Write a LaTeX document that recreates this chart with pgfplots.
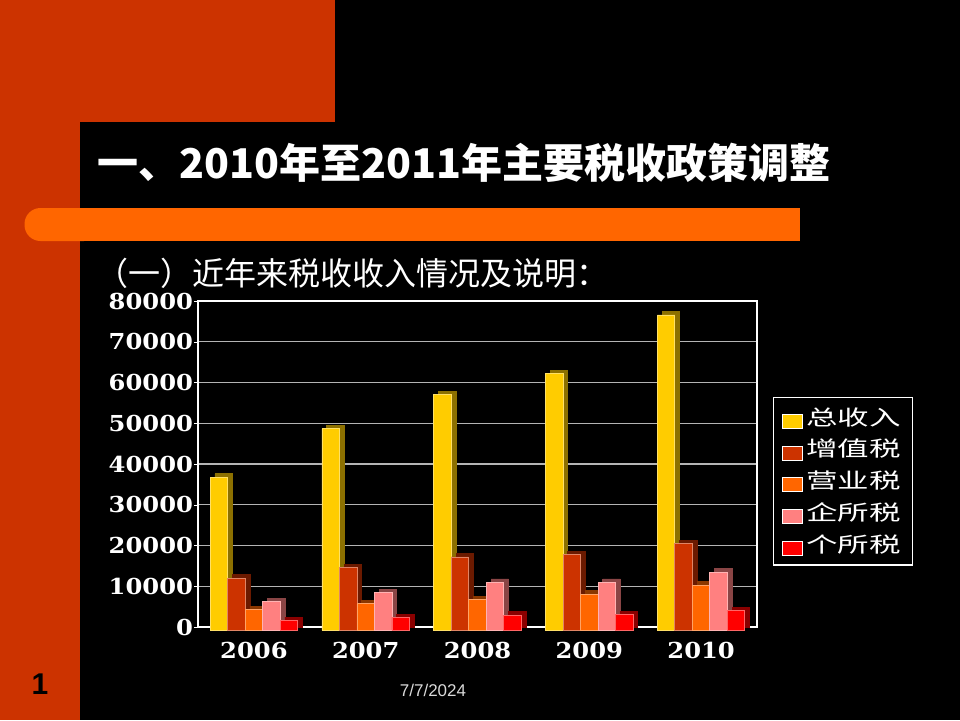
\documentclass[border=0pt]{standalone}
\usepackage{pgfplots}
\usepackage{pgfplotstable}
\pgfplotsset{compat=1.18}
\usepackage{fontspec}
\setmainfont{Liberation Sans}
\newfontfamily\cjk{Noto Sans CJK SC}
\newfontfamily\cjkwide[FakeStretch=1.5]{Noto Sans CJK SC}
\newfontfamily\tickfont[FakeStretch=1.1]{DejaVu Serif}

\definecolor{slidered}{HTML}{CC3300}
\definecolor{slideorange}{HTML}{FF6600}
\definecolor{gridgray}{HTML}{B4B4B4}
\definecolor{cTot}{HTML}{FFCC00}\definecolor{cTotS}{HTML}{8C7000}
\definecolor{cVat}{HTML}{CC3300}\definecolor{cVatS}{HTML}{6B1A00}
\definecolor{cBus}{HTML}{FF6600}\definecolor{cBusS}{HTML}{8A3700}
\definecolor{cCit}{HTML}{FF8080}\definecolor{cCitS}{HTML}{8A4545}
\definecolor{cPit}{HTML}{FF0000}\definecolor{cPitS}{HTML}{8A0000}

\pgfplotstableread{
x total vat bus cit pit
0 37600 12800 5130 7050 2450
1 49500 15400 6500 9300 3180
2 57800 18000 7600 11800 3720
3 63000 18600 8900 11800 3800
4 77400 21300 11100 14300 4850
}\datatable

\pgfplotsset{
  sq legend/.style={legend image code/.code={\draw[##1, draw=white, line width=0.3pt] (0pt,-3.5pt) rectangle (10pt,3.5pt);}},
  front/.style={ybar, bar width=8.75pt, bar shift=#1, yshift=-1.65pt, line width=0.4pt, sq legend},
  side/.style={ybar, bar width=8.75pt, bar shift=#1, xshift=2.4pt, line width=0.4pt, forget plot},
}

\begin{document}
\begin{tikzpicture}
\useasboundingbox (0,0) rectangle (480pt,360pt);
\fill[black] (0,0) rectangle (480pt,360pt);
\fill[slidered] (0,0) rectangle (40pt,360pt);
\fill[slidered] (0,299pt) rectangle (167.5pt,360pt);
\fill[slideorange] (30pt,239.5pt) rectangle (400pt,256pt);
\fill[slideorange, rounded corners=8pt] (12.25pt,239.5pt) rectangle (50pt,256pt);

\node[anchor=west, inner sep=0pt, text=white, font=\cjk\bfseries\fontsize{20.5}{20.5}\selectfont] at (48.5pt,278.5pt) {一、2010年至2011年主要税收政策调整};
\node[anchor=west, inner sep=0pt, text=white, font=\cjk\fontsize{16}{16}\selectfont] at (48pt,223.5pt) {（一）近年来税收收入情况及说明：};
\node[text=black, font=\bfseries\fontsize{15}{15}\selectfont] at (20pt,18pt) {1};
\node[text=black!15!white, font=\fontsize{8.5}{8.5}\selectfont] at (216.5pt,15pt) {7/7/2024};

\begin{axis}[
  scale only axis, width=279.5pt, height=163pt,
  at={(99pt,46.5pt)}, anchor=south west,
  clip=false,
  xmin=-0.5, xmax=4.5, ymin=0, ymax=80000,
  xtick={0,1,2,3,4}, xticklabels={2006,2007,2008,2009,2010},
  ytick={0,10000,...,80000}, ytick pos=left,
  scaled y ticks=false,
  ymajorgrids, grid style={color=gridgray, line width=0.6pt},
  axis line style={white, line width=0.6pt},
  tick style={white}, tick align=outside, major tick length=2pt,
  x tick style={draw=none},
  ticklabel style={text=white, font=\tickfont\bfseries\fontsize{11}{11}\selectfont},
  /pgf/number format/1000 sep={},
  /pgf/number format/assume math mode=true,
  xticklabel style={yshift=-2pt},
  yticklabel style={xshift=3pt},
  legend style={at={(1.0286,0.7055)}, anchor=north west, fill=black, draw=white,
    text=white, font=\cjkwide\fontsize{10.5}{10.5}\selectfont, row sep=1.5pt,
    inner xsep=4pt, inner ysep=3pt, cells={anchor=west}, line width=0.6pt},
]
\addplot[side=-17.5pt, fill=cTotS, draw=cTotS] table[x=x,y=total]{\datatable};
\addplot[front=-17.5pt, fill=cTot, draw=cTot!60!white] table[x=x,y=total]{\datatable};
\addplot[side=-8.75pt, fill=cVatS, draw=cVatS] table[x=x,y=vat]{\datatable};
\addplot[front=-8.75pt, fill=cVat, draw=cVat!60!white] table[x=x,y=vat]{\datatable};
\addplot[side=0pt, fill=cBusS, draw=cBusS] table[x=x,y=bus]{\datatable};
\addplot[front=0pt, fill=cBus, draw=cBus!60!white] table[x=x,y=bus]{\datatable};
\addplot[side=8.75pt, fill=cCitS, draw=cCitS] table[x=x,y=cit]{\datatable};
\addplot[front=8.75pt, fill=cCit, draw=cCit!60!white] table[x=x,y=cit]{\datatable};
\addplot[side=17.5pt, fill=cPitS, draw=cPitS] table[x=x,y=pit]{\datatable};
\addplot[front=17.5pt, fill=cPit, draw=cPit!60!white] table[x=x,y=pit]{\datatable};
\legend{总收入,增值税,营业税,企所税,个所税}
\end{axis}
\end{tikzpicture}
\end{document}
